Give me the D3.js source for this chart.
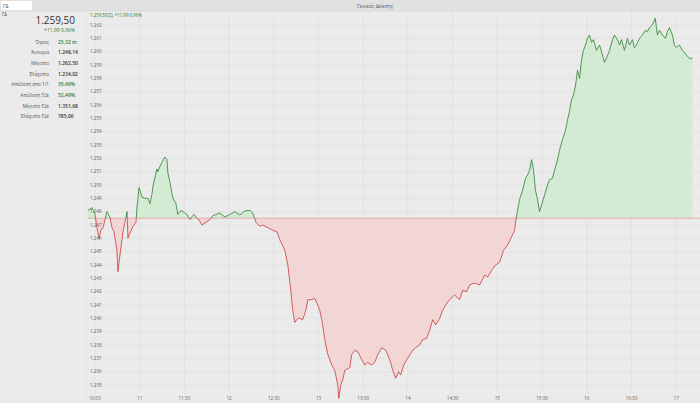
<!DOCTYPE html>
<html><head><meta charset="utf-8">
<script src="https://cdn.jsdelivr.net/npm/d3@7"></script>
<style>
html,body{margin:0;padding:0;background:#ebebeb;}
svg{display:block;font-family:"Open Sans","Noto Sans",sans-serif;}
</style></head>
<body><svg id="c" width="700" height="403"></svg>
<script>
// ---- data (minutes since 10:00, index value) ----
const times = [25.3,28,30,31.3,32.7,34,35.4,36.7,38,40,41.4,42.7,44.7,45.4,46.1,48.1,48.8,50.1,51.5,52.1,53.5,55.5,57.5,58.2,58.8,59.5,60.2,61.5,63.5,65.5,66.9,68.2,68.9,70.9,71.6,72.2,73.6,74.9,76.9,78.3,78.9,80.3,81.6,82.3,84.3,85.6,87.7,89,91.7,93.7,95,96.4,98.4,99.7,101.7,103.1,107.1,109.1,113.8,117.2,120.5,123.9,127.2,130.6,133.9,135.9,138,140.6,142.6,146,149.3,152,154,157.4,159.4,161.4,162.7,164.1,166.1,167.4,169.4,171.5,172.8,175.5,177.5,179.5,180.8,182.2,184.2,186.2,188.9,190.9,192.9,193.6,194.9,196.3,197.6,201,202.3,204.3,206.3,209,211,213,215.7,217.7,219.7,222.4,225.1,227.8,229.8,231.8,233.8,235.1,237.2,239.2,241.2,243.2,245.2,247.9,249.9,252.6,254.6,256.6,258.6,261.3,263.3,265.3,268,271.3,274.7,276.7,279.4,281.4,284.8,288.1,291.5,293.5,296.2,298.8,301.5,304.2,306.9,309.5,311.6,312.2,313.6,314.9,316.9,318.9,320.3,321.6,323,324.3,325.6,327,328.3,329.7,331.7,333.7,335,337,338.4,340.4,341.7,343.7,345.8,347.1,348.4,349.8,351.1,352.5,353.8,355.2,356.5,357.8,359.2,360.5,361.8,363.2,364.5,366.5,368.6,370.6,371.9,373.2,375.3,377.3,378.6,380.6,382,383.3,385.3,387.3,388.7,390.7,392,393.3,395.4,397.4,399.4,400.7,402.1,404,406,407.4,408.8,410.8,412.8,414.1,415.5,417.5,418.8,420.2,422.2,424.2,426.9,428.9,431];
const values = [1248.1,1248.3,1247.8,1246.8,1246.0,1246.6,1246.8,1247.4,1248.0,1247.6,1246.8,1246.5,1245.1,1243.5,1244.2,1245.9,1246.5,1247.2,1248.0,1246.0,1246.4,1246.9,1247.2,1248.4,1248.9,1249.8,1249.6,1249.1,1249.0,1249.0,1248.6,1249.3,1249.9,1250.9,1251.2,1251.0,1251.4,1251.7,1252.1,1251.9,1250.9,1250.2,1249.4,1249.0,1248.6,1247.8,1248.1,1248.0,1247.8,1247.4,1247.6,1247.8,1247.5,1247.4,1247.0,1247.1,1247.4,1247.7,1247.9,1247.6,1247.8,1248.0,1247.75,1248.05,1248.1,1247.9,1247.2,1246.9,1247.0,1246.8,1246.6,1246.5,1245.9,1245.1,1244.0,1242.1,1240.6,1239.7,1240.0,1240.0,1239.9,1240.6,1241.4,1241.4,1241.5,1241.0,1240.6,1239.9,1238.4,1237.3,1236.5,1236.1,1235.0,1234.0,1235.0,1235.4,1236.1,1236.3,1237.3,1237.6,1237.5,1236.9,1236.5,1236.7,1236.5,1236.7,1237.25,1237.8,1237.6,1236.9,1236.1,1235.5,1236.0,1235.75,1236.5,1236.9,1237.25,1237.6,1237.8,1238.0,1238.4,1238.5,1239.1,1239.9,1239.5,1240.0,1240.6,1241.0,1241.4,1241.75,1241.4,1242.1,1242.0,1242.5,1242.65,1242.5,1243.25,1243.1,1243.6,1244.0,1244.2,1245.1,1245.5,1246.1,1246.6,1247.2,1248.1,1248.9,1249.6,1250.5,1250.75,1251.1,1251.9,1251.1,1249.6,1248.9,1248.0,1248.5,1249.25,1250.0,1250.4,1250.5,1251.1,1251.9,1252.6,1253.4,1254.1,1254.9,1255.5,1256.4,1256.75,1257.5,1258.6,1258.0,1259.4,1260.1,1260.5,1261.0,1261.25,1260.7,1260.9,1260.1,1260.5,1259.75,1259.2,1259.5,1260.1,1260.9,1261.25,1260.9,1260.5,1260.9,1260.1,1261.0,1260.5,1260.9,1260.3,1260.5,1261.0,1261.25,1261.6,1261.5,1261.8,1262.0,1262.5,1261.25,1261.6,1261.25,1261.0,1261.5,1261.8,1261.25,1260.5,1260.3,1260.5,1260.1,1259.75,1259.5,1259.5];
const prevClose = 1247.51;
const yTicks = [1235,1236,1237,1238,1239,1240,1241,1242,1243,1244,1245,1246,1247,1248,1249,1250,1251,1252,1253,1254,1255,1256,1257,1258,1259,1260,1261,1262];
const xTickTimes = [30,60,90,120,150,180,210,240,270,300,330,360,390,420];
const xTickLabels = ["10:00","11","11:30","12","12:30","13","13:30","14","14:30","15","15:30","16","16:30","17"];
const title = "Γενικός Δείκτης";
const symbol = "ΓΔ";
const lastPrice = "1.259,50";
const change = "+11,99  0,96%";
const topLabel = "1.259,50(Σ), +11,99 0,96%";
const statLabels = ["Όγκος","Άνοιγμα","Μέγιστο","Ελάχιστο","Απόδοση απο 1/1","Απόδοση 52ε","Μέγιστο 52ε","Ελάχιστο 52ε"];
const statValues = ["25,32 m","1.248,14","1.262,50","1.234,02","35,46%","52,49%","1.351,68","785,06"];
const statGreen = [true,false,false,false,true,true,false,false];

// ---- drawing ----
const svg = d3.select("#c");
const W = 700, H = 403;
const GREEN = "#2f7d32", RED = "#cc3b3b", GREEN_FILL = "#d3ebd3", RED_FILL = "#f2d6d6";
const loc = d3.formatLocale({decimal:",", thousands:".", grouping:[3], currency:["",""]});
const fmtY = loc.format(",.0f");

svg.append("rect").attr("width",W).attr("height",H).attr("fill","#ebebeb");
// header band
svg.append("rect").attr("x",0).attr("y",0).attr("width",W).attr("height",11).attr("fill","#e1e1e1");
svg.append("line").attr("x1",0).attr("x2",W).attr("y1",11).attr("y2",11).attr("stroke","#d0d0d0").attr("stroke-width",0.6);
svg.append("rect").attr("x",0.5).attr("y",0.5).attr("width",32).attr("height",10).attr("fill","#fff").attr("stroke","#d4d4d4").attr("stroke-width",0.5);
svg.append("text").attr("x",3).attr("y",7.5).attr("font-size",5).attr("fill","#444").text(symbol);
svg.append("text").attr("x",2).attr("y",15.5).attr("font-size",4.5).attr("fill","#444").text(symbol);
svg.append("text").attr("x",375).attr("y",7.5).attr("text-anchor","middle").attr("font-size",5).attr("fill","#555").text(title);
svg.append("line").attr("x1",86).attr("x2",86).attr("y1",11).attr("y2",H).attr("stroke","#dcdcdc").attr("stroke-width",0.6);

// left info panel
svg.append("text").attr("x",75).attr("y",24).attr("text-anchor","end").attr("font-size",10).attr("font-weight",500).attr("fill","#333").text(lastPrice);
svg.append("text").attr("x",75).attr("y",31.5).attr("text-anchor","end").attr("font-size",5).attr("fill",GREEN).text(change);
statLabels.forEach((l,i)=>{
  const y = 43.5 + i*10.7;
  svg.append("text").attr("x",49).attr("y",y).attr("text-anchor","end").attr("font-size",4.6).attr("fill","#555").text(l);
  svg.append("text").attr("x",58).attr("y",y).attr("font-size",5).attr("font-weight",600).attr("fill",statGreen[i]?GREEN:"#333").text(statValues[i]);
});

// scales
const x = d3.scaleLinear().domain([25.3, 436]).range([88, 700]);
const y = d3.scaleLinear().domain([1235, 1262]).range([385, 25]);
const plotTop = 12, plotBottom = 393;

// grid
const g = svg.append("g");
g.selectAll(".hg").data(yTicks).join("line")
  .attr("x1",88).attr("x2",W).attr("y1",d=>y(d)).attr("y2",d=>y(d))
  .attr("stroke","#dedede").attr("stroke-width",0.6);
g.selectAll(".vg").data(xTickTimes).join("line")
  .attr("x1",d=>x(d)).attr("x2",d=>x(d)).attr("y1",plotTop).attr("y2",plotBottom)
  .attr("stroke","#dcdcdc").attr("stroke-width",0.6);

// clips
const defs = svg.append("defs");
const yb = y(prevClose);
defs.append("clipPath").attr("id","above").append("rect").attr("x",0).attr("y",0).attr("width",W).attr("height",yb);
defs.append("clipPath").attr("id","below").append("rect").attr("x",0).attr("y",yb).attr("width",W).attr("height",H-yb);

const pts = times.map((t,i)=>[t, values[i]]);
const area = d3.area().x(d=>x(d[0])).y0(yb).y1(d=>y(d[1]));
const line = d3.line().x(d=>x(d[0])).y(d=>y(d[1]));

svg.append("path").datum(pts).attr("d",area).attr("fill",GREEN_FILL).attr("clip-path","url(#above)");
svg.append("path").datum(pts).attr("d",area).attr("fill",RED_FILL).attr("clip-path","url(#below)");
svg.append("line").attr("x1",88).attr("x2",W).attr("y1",yb).attr("y2",yb).attr("stroke","#e39a9a").attr("stroke-width",0.8);
svg.append("path").datum(pts).attr("d",line).attr("fill","none").attr("stroke",GREEN).attr("stroke-width",0.8).attr("clip-path","url(#above)");
svg.append("path").datum(pts).attr("d",line).attr("fill","none").attr("stroke",RED).attr("stroke-width",0.8).attr("clip-path","url(#below)");

// y labels
svg.selectAll(".yl").data(yTicks).join("text")
  .attr("x",90).attr("y",d=>y(d)+1.7).attr("font-size",4.6).attr("fill","#666").text(d=>fmtY(d));
// x labels
svg.selectAll(".xl").data(xTickTimes).join("text")
  .attr("x",d=>x(d)).attr("y",399.5).attr("text-anchor","middle").attr("font-size",4.6).attr("fill","#666")
  .text((d,i)=>xTickLabels[i]);
// top label
svg.append("text").attr("x",90).attr("y",16.5).attr("font-size",4.4).attr("fill",GREEN).text(topLabel);
</script></body></html>
